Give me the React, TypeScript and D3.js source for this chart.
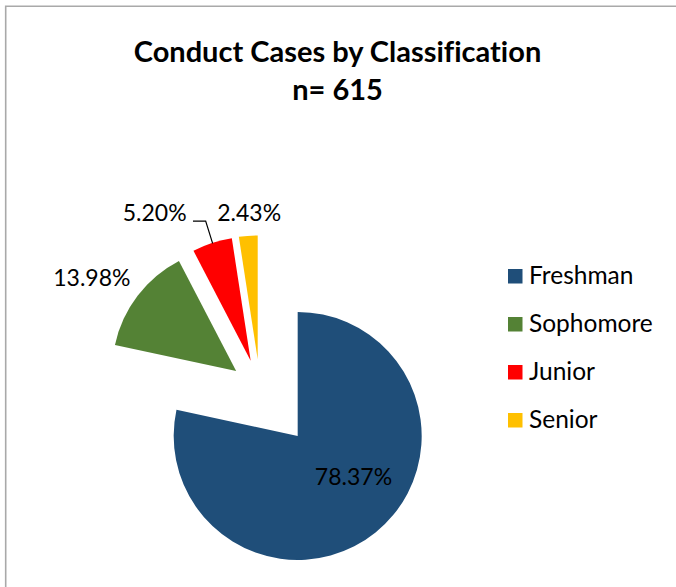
import React from "react";
import * as d3 from "d3";

const categories = ["Freshman", "Sophomore", "Junior", "Senior"];
const percents = [78.37, 13.98, 5.2, 2.43];
const labels = ["78.37%", "13.98%", "5.20%", "2.43%"];
const colors = ["#1F4E79", "#548235", "#FF0000", "#FFC000"];
const titleLines = ["Conduct Cases by Classification", "n= 615"];

// layout (not data)
const W = 676;
const H = 587;
const CX = 260;
const CY = 389.3;
const R = 124;
const explode = [60, 30, 30, 30];
// label offsets relative to each slice apex
const labelOffsets: [number, number][] = [
  [55.8, 49],
  [-144.3, -85.3],
  [-96, -139.7],
  [-8.5, -138.7],
];
const FONT = "Lato, 'Open Sans', sans-serif";
const noLig = { fontVariantLigatures: "none" as const };

export default function App() {
  const pie = d3
    .pie<number>()
    .sort(null)
    .value((d) => d)
    .startAngle(0)
    .endAngle(2 * Math.PI);
  const arcs = pie(percents);
  const arcGen = d3.arc<d3.PieArcDatum<number>>().innerRadius(0).outerRadius(R);

  const apex = arcs.map((a, i) => {
    const mid = (a.startAngle + a.endAngle) / 2;
    return [CX + explode[i] * Math.sin(mid), CY - explode[i] * Math.cos(mid)];
  });

  // leader line for Junior
  const jIdx = 2;
  const jMid = (arcs[jIdx].startAngle + arcs[jIdx].endAngle) / 2;
  const jEdge = [apex[jIdx][0] + R * Math.sin(jMid), apex[jIdx][1] - R * Math.cos(jMid)];
  const jLabel = [apex[jIdx][0] + labelOffsets[jIdx][0], apex[jIdx][1] + labelOffsets[jIdx][1]];
  const leader = d3.line()([
    [jLabel[0] + 38.3, jLabel[1]],
    [jLabel[0] + 51, jLabel[1]],
    [jEdge[0] + 0.5, jEdge[1] + 0.5],
  ] as [number, number][]);

  const legendY = d3.scalePoint<string>().domain(categories).range([269, 413]);

  return (
    <svg
      width={W}
      height={H}
      style={{ position: "absolute", left: 0, top: 0, background: "#fff" }}
    >
      <rect x={0} y={0} width={W} height={H} fill="#fff" />
      <path d={`M5.7,${H} L5.7,6.3 L${W},6.3`} fill="none" stroke="#a9a9a9" strokeWidth={1.6} />
      {titleLines.map((t, i) => (
        <text
          key={i}
          x={337.5}
          y={i === 0 ? 62 : 100}
          textAnchor="middle"
          fontFamily={FONT}
          fontWeight="bold"
          fontSize={29}
          fill="#000"
          style={noLig}
        >
          {t}
        </text>
      ))}
      {arcs.map((a, i) => (
        <path
          key={i}
          d={arcGen(a) || ""}
          transform={`translate(${apex[i][0]},${apex[i][1]})`}
          fill={colors[i]}
        />
      ))}
      <path d={leader || ""} fill="none" stroke="#000" strokeWidth={1.2} />
      {arcs.map((a, i) => (
        <text
          key={"l" + i}
          x={apex[i][0] + labelOffsets[i][0]}
          y={apex[i][1] + labelOffsets[i][1]}
          textAnchor="middle"
          fontFamily={FONT}
          fontSize={23}
          fill="#000"
        >
          {labels[i]}
        </text>
      ))}
      {categories.map((c, i) => (
        <g key={"g" + c} transform={`translate(508,${legendY(c)})`}>
          <rect x={0} y={0} width={14.5} height={14.5} fill={colors[i]} />
          <text x={21} y={15} fontFamily={FONT} fontSize={24.5} fill="#000">
            {c}
          </text>
        </g>
      ))}
    </svg>
  );
}
